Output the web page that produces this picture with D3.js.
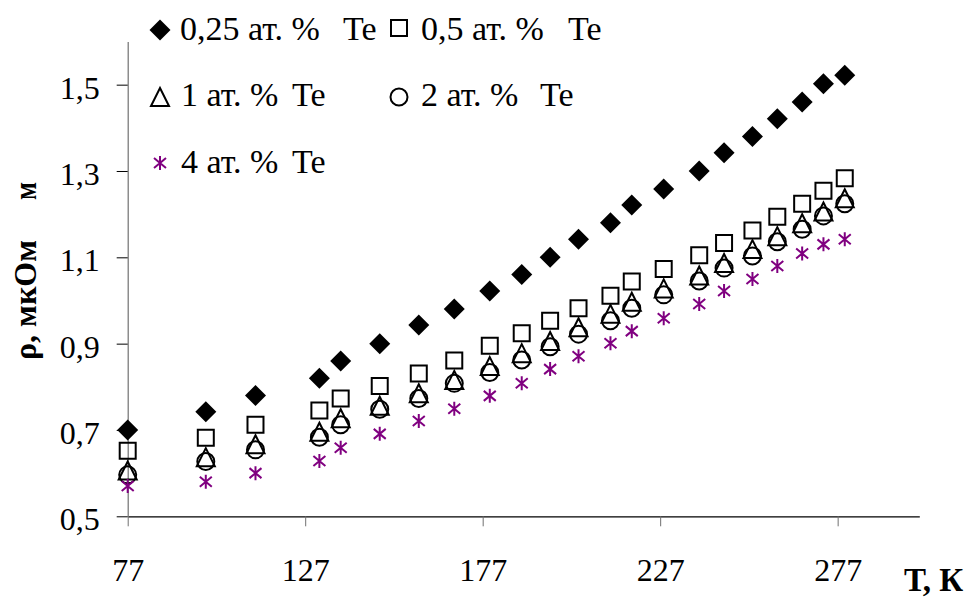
<!DOCTYPE html>
<html>
<head>
<meta charset="utf-8">
<script src="https://cdn.jsdelivr.net/npm/d3@7"></script>
<style>
  body { margin: 0; background: #fff; }
  svg { display: block; }
  text { font-family: "Liberation Serif", "Times New Roman", serif; }
</style>
</head>
<body>
<div id="chart"></div>
<script>
// temperature, K
const temps = [77, 99, 113, 131, 137, 148, 159, 169, 179, 188, 196, 204, 213, 219, 228, 238, 245, 253, 260, 267, 273, 279];

// resistivity, uOhm m
const te025 = [0.70, 0.742, 0.78, 0.82, 0.86, 0.90, 0.943, 0.98, 1.022, 1.06, 1.10, 1.142, 1.18, 1.221, 1.258, 1.30, 1.342, 1.38, 1.421, 1.46, 1.502, 1.522];
const te05 = [0.652, 0.682, 0.712, 0.745, 0.773, 0.802, 0.831, 0.861, 0.895, 0.924, 0.953, 0.982, 1.011, 1.044, 1.073, 1.105, 1.133, 1.162, 1.194, 1.224, 1.254, 1.283];
const te1 = [0.606, 0.637, 0.667, 0.696, 0.727, 0.756, 0.785, 0.816, 0.848, 0.878, 0.906, 0.938, 0.969, 0.997, 1.028, 1.058, 1.087, 1.119, 1.149, 1.179, 1.206, 1.237];
const te2 = [0.596, 0.627, 0.654, 0.683, 0.712, 0.748, 0.773, 0.808, 0.833, 0.862, 0.893, 0.922, 0.953, 0.982, 1.013, 1.045, 1.075, 1.103, 1.136, 1.165, 1.196, 1.224];
const te4 = [0.570, 0.580, 0.600, 0.628, 0.659, 0.691, 0.721, 0.749, 0.779, 0.808, 0.841, 0.871, 0.901, 0.929, 0.959, 0.992, 1.022, 1.050, 1.080, 1.109, 1.130, 1.142];

const xTicks = [77, 127, 177, 227, 277];
const yTicks = [0.5, 0.7, 0.9, 1.1, 1.3, 1.5];

const seriesNames = ['0,25 ат. %', '0,5 ат. %', '1 ат. %', '2 ат. %', '4 ат. %'];

// set the dimensions and margins of the graph
const W = 974, H = 599;
const margin = {top: 41.5, left: 127.7};
const width = 791.6;
const height = 474.8;

const svg = d3.select('#chart')
  .append('svg')
  .attr('width', W)
  .attr('height', H);

const g = svg.append('g')
  .attr('transform', 'translate(' + margin.left + ',' + margin.top + ')');

const x = d3.scaleLinear().domain([77, 300]).range([0, width]);
const y = d3.scaleLinear().domain([0.5, 1.6]).range([height, 0]);

// axes
const xAxis = g.append('g')
  .attr('transform', 'translate(0,' + height + ')')
  .call(d3.axisBottom(x).tickValues(xTicks).tickSize(10).tickSizeOuter(0).tickPadding(30));
xAxis.select('.domain').attr('stroke', '#000').attr('stroke-width', 1.2);
xAxis.selectAll('.tick line').attr('stroke', '#707070');
xAxis.selectAll('.tick text')
  .attr('font-size', 32)
  .attr('font-family', '"Liberation Serif", serif')
  .attr('fill', '#000')
  .attr('dy', '0.77em');

const yAxis = g.append('g')
  .call(d3.axisLeft(y).tickValues(yTicks).tickSize(11).tickSizeOuter(0).tickPadding(17)
    .tickFormat(d => d3.format('.1f')(d).replace('.', ',')));
yAxis.select('.domain').attr('stroke', '#707070').attr('stroke-width', 1.2);
yAxis.selectAll('.tick line').attr('stroke', '#000');
yAxis.selectAll('.tick text')
  .attr('font-size', 32)
  .attr('font-family', '"Liberation Serif", serif')
  .attr('fill', '#000')
  .attr('dy', '0.42em');

// marker shapes
const diamond = 'M0,-10.5L10.5,0L0,10.5L-10.5,0Z';
const square = 'M-8,-8H8V8H-8Z';
const triangle = 'M0,-9L9,9L-9,9Z';
const star = 'M0,-7V7M-6,-5L6,5M-6,5L6,-5';

function drawMarker(sel, kind) {
  if (kind === 0) {
    sel.append('path').attr('d', diamond).attr('fill', '#000');
  } else if (kind === 1) {
    sel.append('path').attr('d', square).attr('fill', 'none').attr('stroke', '#000').attr('stroke-width', 2);
  } else if (kind === 2) {
    sel.append('path').attr('d', triangle).attr('fill', 'none').attr('stroke', '#000').attr('stroke-width', 2)
      .attr('stroke-linejoin', 'miter');
  } else if (kind === 3) {
    sel.append('circle').attr('r', 8.5).attr('fill', 'none').attr('stroke', '#000').attr('stroke-width', 2);
  } else {
    sel.append('path').attr('d', star).attr('fill', 'none').attr('stroke', '#800080').attr('stroke-width', 2);
  }
}

const allSeries = [te025, te05, te1, te2, te4];

allSeries.forEach((vals, k) => {
  const pts = g.append('g')
    .selectAll('g')
    .data(temps.map((t, i) => ({t: t, v: vals[i]})))
    .enter()
    .append('g')
    .attr('transform', d => 'translate(' + x(d.t) + ',' + y(d.v) + ')');
  pts.each(function() { drawMarker(d3.select(this), k); });
});

// legend
const legendItems = [
  {k: 0, mx: 160, my: 30, tx: 180, ty: 40, tex: 343},
  {k: 1, mx: 399, my: 28, tx: 421, ty: 40, tex: 568},
  {k: 2, mx: 160, my: 97, tx: 181, ty: 106, tex: 292},
  {k: 3, mx: 399, my: 97, tx: 421, ty: 106, tex: 540},
  {k: 4, mx: 160, my: 163, tx: 181, ty: 173, tex: 292}
];

const legend = svg.append('g');
legendItems.forEach(it => {
  const m = legend.append('g').attr('transform', 'translate(' + it.mx + ',' + it.my + ')');
  drawMarker(m, it.k);
  legend.append('text')
    .attr('x', it.tx).attr('y', it.ty)
    .attr('font-size', 34)
    .text(seriesNames[it.k]);
  legend.append('text')
    .attr('x', it.tex).attr('y', it.ty)
    .attr('font-size', 34)
    .text('Te');
});

// axis titles: stretch along the reading direction to the reference length
function stretchedTitle(str, startY, len) {
  const grp = svg.append('g');
  const t = grp.append('text')
    .attr('font-size', 31)
    .attr('font-weight', 'bold')
    .text(str);
  const natural = t.node().getComputedTextLength() || len;
  grp.attr('transform', 'translate(36,' + startY + ') rotate(-90) scale(' + (len / natural) + ',1)');
}
stretchedTitle('ρ, мкОм', 360, 120);
stretchedTitle('м', 200, 18);

svg.append('text')
  .attr('x', 904).attr('y', 591)
  .attr('font-size', 33)
  .attr('font-weight', 'bold')
  .text('Т, К');
</script>
</body>
</html>
